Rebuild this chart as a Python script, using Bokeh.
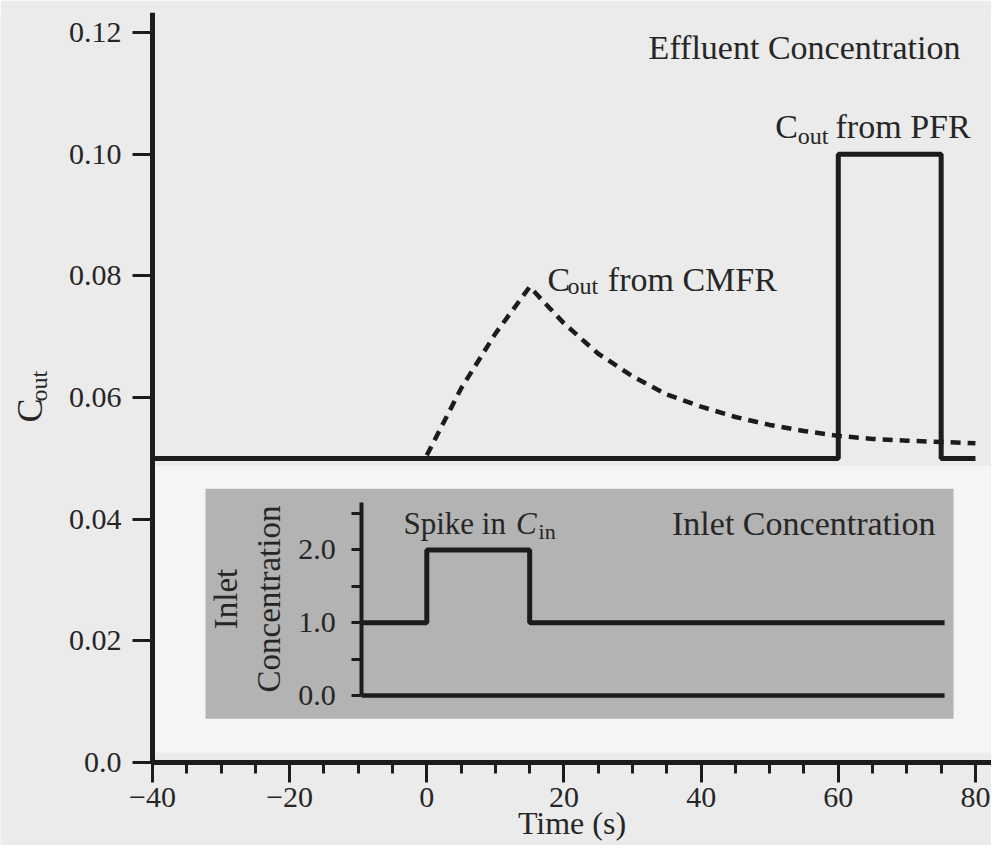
from math import pi
from bokeh.plotting import figure
from bokeh.models import (Range1d, LinearAxis, FixedTicker, Label, BoxAnnotation,
                          PrintfTickFormatter)
from bokeh.embed import file_html
from bokeh.resources import INLINE

# ---------------- data ----------------
pfr_time = [-40, 60, 75, 80]
pfr_conc = [0.05, 0.10, 0.05, 0.05]

cmfr_time = [0, 5, 10, 15, 20, 25, 30, 35, 40, 45, 50, 55, 60, 65, 70, 75, 80]
cmfr_conc = [0.0505, 0.0615, 0.0705, 0.0782, 0.0722, 0.0672, 0.0635, 0.0605,
             0.0585, 0.0568, 0.0555, 0.0545, 0.0537, 0.0532, 0.0529, 0.0527, 0.0525]

inlet_time = [-9.5, 0, 15, 75.5]
inlet_conc = [1.0, 2.0, 1.0, 1.0]

x_ticks = [-40, -20, 0, 20, 40, 60, 80]
x_tick_labels = ["\u221240", "\u221220", "0", "20", "40", "60", "80"]
y_ticks = [0.0, 0.02, 0.04, 0.06, 0.08, 0.10, 0.12]
y_tick_labels = ["0.0", "0.02", "0.04", "0.06", "0.08", "0.10", "0.12"]
inlet_ticks = [0.0, 1.0, 2.0]
inlet_minor_ticks = [0.5, 1.5, 2.5]

# ---------------- style ----------------
FONT = "Liberation Serif"
INK = "#1c1c1c"
TXT = "#262626"
BG = "#ebebeb"

p = figure(frame_width=991, frame_height=833,
           x_range=Range1d(-62.16, 82.34), y_range=Range1d(-0.01364, 0.1233),
           output_backend="svg", toolbar_location=None,
           min_border_left=0, min_border_right=0, min_border_top=12, min_border_bottom=0,
           background_fill_color=BG, border_fill_color=BG, outline_line_color=None)
p.xgrid.visible = False
p.ygrid.visible = False
p.extra_y_ranges = {"inlet": Range1d(-2.060, 9.382)}

# background panels
p.add_layout(BoxAnnotation(left=-40, right=82.2, top=0.0488, bottom=0.0016,
                           fill_color="#f5f5f5", fill_alpha=1, line_color=None, level="underlay"))
p.add_layout(BoxAnnotation(left=-32.27, right=76.8, top=0.0450, bottom=0.0072,
                           fill_color="#b3b3b3", fill_alpha=1, line_color=None, level="underlay"))

# main axes (placed at x=-40 / y=0 inside the frame)
xa = p.xaxis[0]
xa.fixed_location = 0
xa.bounds = (x_ticks[0], 86)
xa.ticker = FixedTicker(ticks=x_ticks, minor_ticks=[t for t in range(-40, 85, 5) if t % 20])
xa.major_label_overrides = dict(zip(x_ticks, x_tick_labels))
xa.axis_label = "Time (s)"
ya = p.yaxis[0]
ya.fixed_location = x_ticks[0]
ya.bounds = (0, 0.13)
ya.ticker = FixedTicker(ticks=y_ticks)
ya.major_label_overrides = dict(zip(y_ticks, y_tick_labels))

for ax in (xa, ya):
    ax.axis_line_width = 5
    ax.axis_line_color = INK
    ax.major_tick_line_width = 3
    ax.minor_tick_line_width = 3
    ax.major_tick_line_color = INK
    ax.major_tick_in = 0
    ax.minor_tick_in = 0
    ax.major_tick_out = 20
    ax.minor_tick_out = 11
    ax.major_label_text_font = FONT
    ax.major_label_text_font_size = "30px"
    ax.major_label_text_color = TXT
    ax.axis_label_text_font = FONT
    ax.axis_label_text_font_size = "32px"
    ax.axis_label_text_font_style = "normal"
    ax.axis_label_text_color = TXT
xa.minor_tick_line_color = INK
ya.minor_tick_line_color = None
xa.major_label_standoff = 5
xa.axis_label_standoff = -5
ya.major_label_standoff = 11

# inset axis
ia = LinearAxis(y_range_name="inlet", fixed_location=inlet_time[0], bounds=(0, 2.65),
                ticker=FixedTicker(ticks=inlet_ticks, minor_ticks=inlet_minor_ticks),
                formatter=PrintfTickFormatter(format="%.1f"),
                axis_label="Inlet\nConcentration")
ia.axis_line_width = 4
ia.axis_line_color = INK
ia.major_tick_line_width = 3
ia.minor_tick_line_width = 3
ia.major_tick_line_color = INK
ia.minor_tick_line_color = INK
ia.major_tick_in = 0
ia.minor_tick_in = 0
ia.major_tick_out = 10
ia.minor_tick_out = 10
ia.major_label_standoff = 16
ia.major_label_text_font = FONT
ia.major_label_text_font_size = "30px"
ia.major_label_text_color = TXT
ia.axis_label_text_font = FONT
ia.axis_label_text_font_size = "33px"
ia.axis_label_text_font_style = "normal"
ia.axis_label_text_color = TXT
ia.axis_label_standoff = 8
p.add_layout(ia, "left")

# ---------------- glyphs ----------------
p.step(pfr_time, pfr_conc, mode="after", line_width=5, line_color=INK)
p.line(cmfr_time, cmfr_conc, line_width=4.5, line_color=INK, line_dash="10 7")
p.step(inlet_time, inlet_conc, mode="after", line_width=5, line_color=INK, y_range_name="inlet")
p.line([inlet_time[0], inlet_time[-1]], [0, 0], line_width=4.5, line_color=INK, y_range_name="inlet")


# ---------------- texts ----------------
def lab(x, y, t, size=34, align="left", angle=0, style="normal", yr="default"):
    p.add_layout(Label(x=x, y=y, text=t, text_font=FONT, text_font_size=f"{size}px",
                       text_color=TXT, text_align=align, text_baseline="alphabetic",
                       angle=angle, text_font_style=style, y_range_name=yr))


lab(77.82, 0.11756, "Effluent Concentration", align="right")
lab(50.8, 0.10458, "C")
lab(54.1, 0.10293, "out", size=24)
lab(59.6, 0.10458, "from PFR")
lab(17.60, 0.07942, "C")
lab(20.51, 0.07827, "out", size=24)
lab(26.4, 0.07942, "from CMFR")
lab(-3.40, 2.36, "Spike in", size=31, yr="inlet")
lab(13.0, 2.36, "C", size=31, style="italic", yr="inlet")
lab(16.3, 2.25, "in", size=22, yr="inlet")
lab(74.17, 2.36, "Inlet Concentration", align="right", yr="inlet")
lab(-57.8, 0.05589, "C", size=36, angle=pi / 2)
lab(-56.6, 0.05935, "out", size=24, angle=pi / 2)

open("out.html", "w").write(file_html(p, INLINE))
